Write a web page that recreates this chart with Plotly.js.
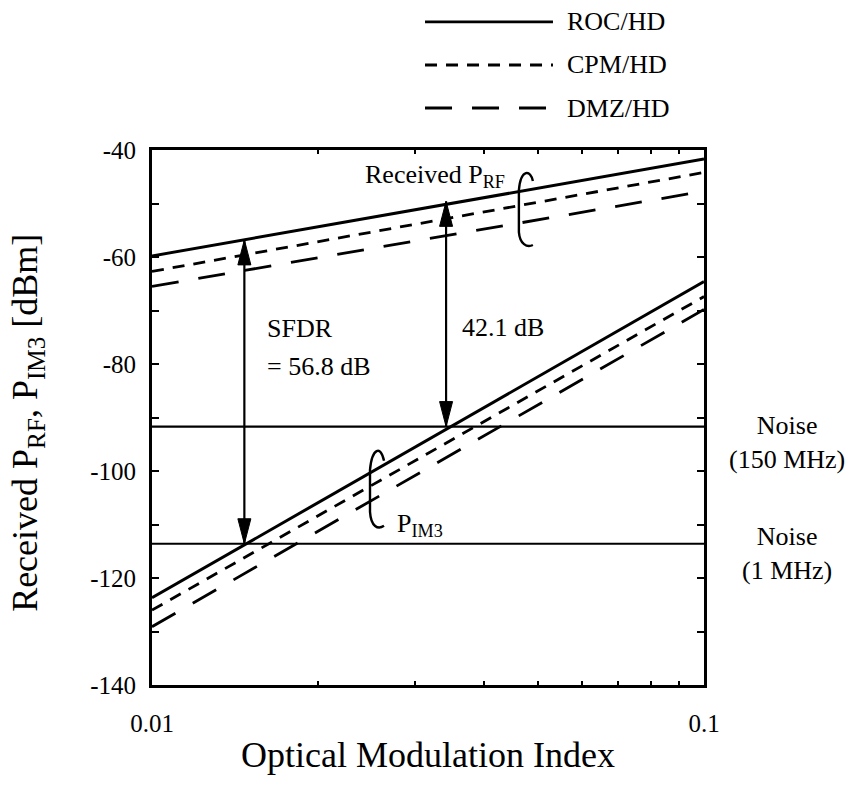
<!DOCTYPE html>
<html><head><meta charset="utf-8">
<script src="https://cdn.plot.ly/plotly-3.0.1.min.js"></script>
<style>body{margin:0;background:#fff}</style>
</head><body><div id="chart" style="width:854px;height:795px"></div>
<script>
// ---- data ----
const omi = [0.01, 0.1];                 // optical modulation index (ends of plotted lines)
const rfROC = [-59.8, -41.7];            // received P_RF [dBm]
const rfCPM = [-62.7, -44.2];
const rfDMZ = [-65.5, -47.7];
const im3ROC = [-123.7, -64.6];          // P_IM3 [dBm]
const im3CPM = [-126.0, -67.4];
const im3DMZ = [-129.1, -69.8];
const noise150 = [-91.7, -91.7];         // noise floor, 150 MHz
const noise1 = [-113.6, -113.6];         // noise floor, 1 MHz
const seriesNames = ['ROC/HD', 'CPM/HD', 'DMZ/HD'];
const sfdrOmi = [0.0147, 0.0341];        // x of SFDR arrows
const sfdrFloor = [-113.6, -91.7];       // arrow base (noise level)
const sfdrValue = [56.8, 42.1];          // SFDR [dB]
const xTickVals = [0.01, 0.1];
const xTickText = ['0.01', '0.1'];
const xMinorVals = [0.02,0.03,0.04,0.05,0.06,0.07,0.08,0.09];
const yTickVals = [-140,-120,-100,-80,-60,-40];
const yTickText = ['-140','-120','-100','-80','-60','-40'];

// ---- styling ----
const FONT = 'Liberation Serif';
const K = '#000';
const dashes = ['solid', '12px,9px', '27px,20px'];
const PX_DEC = 552, PX_DB = 5.35; // plot scale (px per decade, px per dB)
function off(o, d, dx, dy) { return [o * Math.pow(10, dx / PX_DEC), d - dy / PX_DB]; }

function line(x, y, dash, w) {
  return {x: x, y: y, type: 'scatter', mode: 'lines', showlegend: false,
          hoverinfo: 'skip', line: {color: K, width: w, dash: dash}};
}
const traces = [
  line(omi, rfROC, dashes[0], 3), line(omi, rfCPM, dashes[1], 2.8), line(omi, rfDMZ, dashes[2], 2.8),
  line(omi, im3ROC, dashes[0], 3), line(omi, im3CPM, dashes[1], 2.8), line(omi, im3DMZ, dashes[2], 2.8),
  line(omi, noise150, 'solid', 2.2), line(omi, noise1, 'solid', 2.2)
];

const shapes = [];
const annotations = [];

// SFDR double arrows
const HEAD_L = 25, HEAD_W = 6.5;
sfdrOmi.forEach((o, i) => {
  const bot = sfdrFloor[i], top = sfdrFloor[i] + sfdrValue[i];
  shapes.push({type: 'line', xref: 'x', yref: 'y', x0: o, x1: o, y0: bot, y1: top,
               line: {color: K, width: 2.2}});
  const [xr, yt] = off(o, top, HEAD_W, HEAD_L);
  const [xl] = off(o, top, -HEAD_W, 0);
  shapes.push({type: 'path', xref: 'x', yref: 'y', fillcolor: K, line: {color: K, width: 1},
               path: `M ${o},${top} L ${xr},${yt} L ${xl},${yt} Z`});
  const yb = off(o, bot, 0, -HEAD_L)[1];
  shapes.push({type: 'path', xref: 'x', yref: 'y', fillcolor: K, line: {color: K, width: 1},
               path: `M ${o},${bot} L ${xr},${yb} L ${xl},${yb} Z`});
});

// curly brackets grouping the three curves
function bracket(o, d, pts) {
  const p = pts.map(([dx, dy]) => off(o, d, dx, dy).join(','));
  return `M ${p[0]} C ${p[1]} ${p[2]} ${p[3]} L ${p[4]} C ${p[5]} ${p[6]} ${p[7]}`;
}
shapes.push({type: 'path', xref: 'x', yref: 'y', line: {color: K, width: 2.4},
  path: bracket(0.04898, -45.8, [[0,0],[-2,-11],[-12,-13],[-14,9],[-14,51],[-13,63],[-6,67],[0,64]])});
shapes.push({type: 'path', xref: 'x', yref: 'y', line: {color: K, width: 2.4},
  path: bracket(0.02632, -98.1, [[0,0],[-3,-16],[-12,-13],[-14,9],[-14,51],[-13,66],[-6,69],[0,65]])});

// in-plot labels (annotation x on log axis is log10)
function txt(o, d, t, xa, ya) {
  annotations.push({xref: 'x', yref: 'y', x: Math.log10(o), y: d, text: t, showarrow: false,
    xanchor: xa || 'left', yanchor: ya || 'middle', font: {family: FONT, size: 26, color: K}});
}
txt(0.02414, -44.9, 'Received P<sub>RF</sub>');
txt(0.01603, -73.3, 'SFDR');
txt(0.01603, -80.4, '= 56.8 dB');
txt(0.03614, -73.1, '42.1 dB');
txt(0.02760, -110.0, 'P<sub>IM3</sub>');

// noise labels right of the plot
annotations.push({xref: 'paper', yref: 'y', x: 1.15, y: -94.6, text: 'Noise<br>(150 MHz)',
  showarrow: false, xanchor: 'center', yanchor: 'middle', font: {family: FONT, size: 26, color: K}});
annotations.push({xref: 'paper', yref: 'y', x: 1.15, y: -115.5, text: 'Noise<br>(1 MHz)',
  showarrow: false, xanchor: 'center', yanchor: 'middle', font: {family: FONT, size: 26, color: K}});

// y-axis title (as rotated annotation for exact placement)
annotations.push({xref: 'paper', yref: 'paper', x: -0.2246, y: 0.49, textangle: -90,
  text: 'Received P<sub>RF</sub>, P<sub>IM3</sub> [dBm]', showarrow: false,
  xanchor: 'center', yanchor: 'middle', font: {family: FONT, size: 36, color: K}});

// custom legend above the plot
const legY = [1.2393, 1.1589, 1.0785];
seriesNames.forEach((n, i) => {
  shapes.push({type: 'line', xref: 'paper', yref: 'paper', x0: 0.4946, x1: 0.7264, y0: legY[i], y1: legY[i],
               line: {color: K, width: 2.8, dash: dashes[i]}});
  annotations.push({xref: 'paper', yref: 'paper', x: 0.748, y: legY[i], text: n, showarrow: false,
    xanchor: 'left', yanchor: 'middle', font: {family: FONT, size: 26, color: K}});
});

const layout = {
  width: 854, height: 795,
  margin: {l: 152, r: 150, t: 150, b: 110},
  paper_bgcolor: '#fff', plot_bgcolor: '#fff',
  font: {family: FONT, color: K},
  showlegend: false,
  xaxis: {type: 'log', range: [-2, -1], tickmode: 'array', tickvals: xTickVals, ticktext: xTickText,
    ticks: 'inside', ticklen: 4, tickwidth: 2, tickcolor: K, showline: true, linewidth: 3, linecolor: K,
    minor: {tickmode: 'array', tickvals: xMinorVals, ticks: 'inside', ticklen: 4, tickwidth: 2, tickcolor: K, showgrid: false},
    mirror: 'ticks', showgrid: false, zeroline: false, ticklabelstandoff: 14,
    tickfont: {family: FONT, size: 25, color: K},
    title: {text: 'Optical Modulation Index', font: {family: FONT, size: 36, color: K}, standoff: 6}},
  yaxis: {range: [-140, -40], tickmode: 'array', tickvals: yTickVals, ticktext: yTickText,
    ticks: 'inside', ticklen: 7, tickwidth: 2, tickcolor: K, showline: true, linewidth: 3, linecolor: K,
    minor: {dtick: 10, tick0: -140, ticks: 'inside', ticklen: 7, tickwidth: 2, tickcolor: K, showgrid: false},
    mirror: 'ticks', showgrid: false, zeroline: false, ticklabelstandoff: 8,
    tickfont: {family: FONT, size: 25, color: K}},
  shapes: shapes, annotations: annotations
};
Plotly.newPlot('chart', traces, layout, {displayModeBar: false, staticPlot: true});
</script></body></html>
